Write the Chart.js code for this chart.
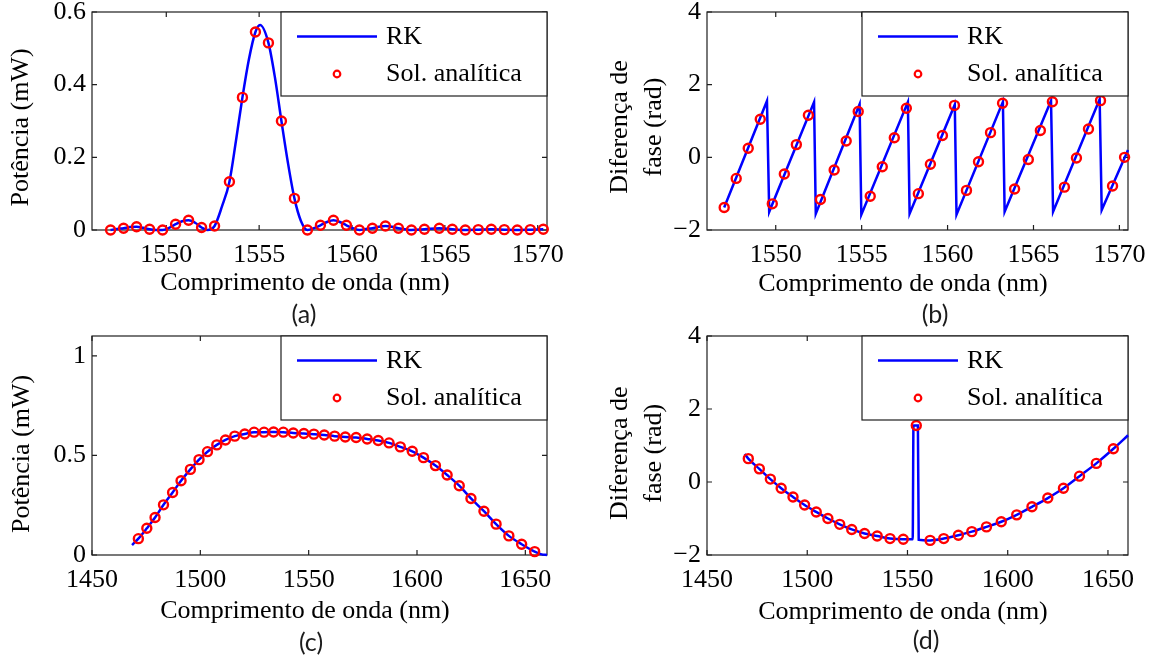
<!DOCTYPE html>
<html><head><meta charset="utf-8">
<script src="https://cdn.jsdelivr.net/npm/chart.js@4.4.0/dist/chart.umd.min.js"></script>
<style>
html,body{margin:0;padding:0;background:#fff;width:1153px;height:659px;overflow:hidden;position:relative;}
canvas{position:absolute;display:block;}
.cap{position:absolute;font-family:Lato,"Open Sans",sans-serif;font-size:25px;color:#1c1c1c;transform:translate(-50%,-50%);line-height:1;}
</style></head><body>
<canvas id="ca" width="576" height="330" style="left:0;top:0"></canvas>
<canvas id="cb" width="577" height="330" style="left:576px;top:0"></canvas>
<canvas id="cc" width="576" height="349" style="left:0;top:310px"></canvas>
<canvas id="cd" width="577" height="349" style="left:576px;top:310px"></canvas>
<div class="cap" style="left:304px;top:313px">(a)</div>
<div class="cap" style="left:935px;top:313px">(b)</div>
<div class="cap" style="left:311px;top:641px">(c)</div>
<div class="cap" style="left:926px;top:639px">(d)</div>
<script>
// ---------- data ----------
const seriesLabels = ['RK', 'Sol. analítica'];
const xTitle = 'Comprimento de onda (nm)';
const powerTitle = ['Potência (mW)'];
const phaseTitle = ['Diferença de', 'fase (rad)'];
const captions = ['(a)', '(b)', '(c)', '(d)'];

const abXTicks = [1550, 1555, 1560, 1565, 1570];
const cdXTicks = [1450, 1500, 1550, 1600, 1650];
const aYTicks = [0, 0.2, 0.4, 0.6];
const cYTicks = [0, 0.5, 1];
const bdYTicks = [-2, 0, 2, 4];

// (a) power, narrow band
const aSolX = [1547.0, 1547.7, 1548.4, 1549.1, 1549.8, 1550.5, 1551.2, 1551.9, 1552.6, 1553.4, 1554.1, 1554.8, 1555.5, 1556.2, 1556.9, 1557.6, 1558.3, 1559.0, 1559.7, 1560.4, 1561.1, 1561.8, 1562.5, 1563.2, 1563.9, 1564.7, 1565.4, 1566.1, 1566.8, 1567.5, 1568.2, 1568.9, 1569.6, 1570.3];
const aSolY = [0.000, 0.005, 0.009, 0.002, 0.000, 0.016, 0.027, 0.007, 0.011, 0.133, 0.365, 0.545, 0.515, 0.300, 0.087, 0.000, 0.013, 0.027, 0.013, 0.000, 0.005, 0.011, 0.005, 0.000, 0.002, 0.005, 0.002, 0.000, 0.001, 0.002, 0.001, 0.000, 0.001, 0.002];
const aRkX = [1547.0, 1547.35, 1547.7, 1548.05, 1548.4, 1548.75, 1549.1, 1549.45, 1549.8, 1550.15, 1550.5, 1550.85, 1551.2, 1551.55, 1551.9, 1552.2, 1552.6, 1553.0, 1553.4, 1553.75, 1554.1, 1554.45, 1554.8, 1555.05, 1555.5, 1555.85, 1556.2, 1556.55, 1556.9, 1557.25, 1557.6, 1557.95, 1558.3, 1558.65, 1559.0, 1559.35, 1559.7, 1560.05, 1560.4, 1560.75, 1561.1, 1561.45, 1561.8, 1562.15, 1562.5, 1562.85, 1563.2, 1563.9, 1564.7, 1565.4, 1566.1, 1566.8, 1567.5, 1568.2, 1568.9, 1569.6, 1570.3];
const aRkY = [0.000, 0.003, 0.005, 0.008, 0.009, 0.006, 0.002, 0.000, 0.000, 0.006, 0.016, 0.024, 0.027, 0.020, 0.007, 0.000, 0.011, 0.065, 0.133, 0.245, 0.365, 0.470, 0.545, 0.564, 0.515, 0.420, 0.300, 0.185, 0.087, 0.025, 0.000, 0.005, 0.013, 0.022, 0.027, 0.022, 0.013, 0.005, 0.000, 0.003, 0.005, 0.009, 0.011, 0.009, 0.005, 0.002, 0.000, 0.002, 0.005, 0.002, 0.000, 0.001, 0.002, 0.001, 0.000, 0.001, 0.002];

// (b) phase, narrow band
const bSolX = [1547.0, 1547.7, 1548.4, 1549.1, 1549.8, 1550.5, 1551.2, 1551.9, 1552.6, 1553.4, 1554.1, 1554.8, 1555.5, 1556.2, 1556.9, 1557.6, 1558.3, 1559.0, 1559.7, 1560.4, 1561.1, 1561.8, 1562.5, 1563.2, 1563.9, 1564.7, 1565.4, 1566.1, 1566.8, 1567.5, 1568.2, 1568.9, 1569.6, 1570.3];
const bSolY = [-1.38, -0.58, 0.25, 1.05, -1.28, -0.46, 0.35, 1.16, -1.16, -0.35, 0.45, 1.26, -1.07, -0.26, 0.54, 1.35, -1.00, -0.19, 0.60, 1.43, -0.91, -0.12, 0.68, 1.49, -0.87, -0.06, 0.74, 1.53, -0.82, -0.02, 0.78, 1.56, -0.79, 0.00];
const bRkX = [1547.0, 1549.49, 1549.62, 1552.23, 1552.33, 1554.88, 1554.98, 1557.69, 1557.79, 1560.42, 1560.52, 1563.22, 1563.32, 1566.02, 1566.14, 1568.85, 1568.97, 1570.5];
const bRkY = [-1.38, 1.55, -1.50, 1.52, -1.55, 1.46, -1.58, 1.52, -1.55, 1.45, -1.58, 1.53, -1.50, 1.56, -1.50, 1.60, -1.45, 0.20];

// (c) power, wide band
const cSolX = [1471.4, 1475.3, 1479.1, 1483.0, 1487.2, 1491.1, 1495.4, 1499.4, 1503.3, 1507.6, 1511.6, 1515.9, 1520.5, 1524.8, 1529.4, 1533.8, 1538.3, 1542.9, 1547.8, 1552.4, 1557.2, 1562.0, 1566.9, 1571.9, 1577.0, 1582.1, 1587.1, 1592.3, 1597.8, 1603.0, 1608.5, 1613.9, 1619.5, 1624.9, 1630.9, 1636.5, 1642.4, 1648.3, 1654.3];
const cSolY = [0.082, 0.134, 0.188, 0.252, 0.314, 0.373, 0.430, 0.479, 0.519, 0.553, 0.578, 0.597, 0.608, 0.617, 0.617, 0.618, 0.617, 0.613, 0.610, 0.607, 0.603, 0.597, 0.593, 0.590, 0.583, 0.575, 0.563, 0.543, 0.521, 0.489, 0.449, 0.402, 0.348, 0.284, 0.220, 0.155, 0.096, 0.054, 0.017];
const cRkX = [1468.5, 1471.4, 1475.3, 1479.1, 1483.0, 1487.2, 1491.1, 1495.4, 1499.4, 1503.3, 1507.6, 1511.6, 1515.9, 1520.5, 1524.8, 1529.4, 1533.8, 1538.3, 1542.9, 1547.8, 1552.4, 1557.2, 1562.0, 1566.9, 1571.9, 1577.0, 1582.1, 1587.1, 1592.3, 1597.8, 1603.0, 1608.5, 1613.9, 1619.5, 1624.9, 1630.9, 1636.5, 1642.4, 1648.3, 1654.3, 1657.5, 1660.0];
const cRkY = [0.050, 0.082, 0.134, 0.188, 0.252, 0.314, 0.373, 0.430, 0.479, 0.519, 0.553, 0.578, 0.597, 0.608, 0.617, 0.617, 0.618, 0.617, 0.613, 0.610, 0.607, 0.603, 0.597, 0.593, 0.590, 0.583, 0.575, 0.563, 0.543, 0.521, 0.489, 0.449, 0.402, 0.348, 0.284, 0.220, 0.155, 0.096, 0.054, 0.017, 0.003, 0.000];

// (d) phase, wide band
const dSolX = [1470.6, 1476.1, 1481.6, 1487.0, 1492.9, 1498.7, 1504.5, 1510.3, 1516.2, 1522.2, 1528.6, 1534.9, 1541.3, 1547.9, 1554.4, 1561.3, 1568.1, 1575.4, 1582.1, 1589.4, 1596.8, 1604.5, 1612.1, 1620.0, 1627.8, 1635.8, 1644.2, 1652.7];
const dSolY = [0.64, 0.36, 0.08, -0.17, -0.41, -0.63, -0.82, -1.00, -1.16, -1.30, -1.41, -1.48, -1.55, -1.57, 1.55, -1.60, -1.55, -1.46, -1.36, -1.23, -1.09, -0.90, -0.68, -0.44, -0.17, 0.16, 0.51, 0.91];
const dRkX = [1468.8, 1470.6, 1476.1, 1481.6, 1487.0, 1492.9, 1498.7, 1504.5, 1510.3, 1516.2, 1522.2, 1528.6, 1534.9, 1541.3, 1547.9, 1552.6, 1553.0, 1555.2, 1555.6, 1561.3, 1568.1, 1575.4, 1582.1, 1589.4, 1596.8, 1604.5, 1612.1, 1620.0, 1627.8, 1635.8, 1644.2, 1652.7, 1660.0];
const dRkY = [0.77, 0.64, 0.36, 0.08, -0.17, -0.41, -0.63, -0.82, -1.00, -1.16, -1.30, -1.41, -1.48, -1.55, -1.57, -1.57, 1.55, 1.55, -1.58, -1.60, -1.55, -1.46, -1.36, -1.23, -1.09, -0.90, -0.68, -0.44, -0.17, 0.16, 0.51, 0.91, 1.28];

// ---------- drawing ----------
const SERIF = '"Liberation Serif", "Times New Roman", serif';
const FS = 26;
const AXIS = '#1e1e1e';

function pts(xs, ys) { return xs.map((x, i) => ({x: x, y: ys[i]})); }
function fmt(v) { return String(v).replace('-', '\u2212'); }

const framePlugin = {
  id: 'frame',
  beforeDatasetsDraw(chart, args, o) {
    const {ctx, chartArea: a, scales: {x, y}} = chart;
    ctx.save();
    ctx.strokeStyle = AXIS; ctx.lineWidth = 1.2;
    ctx.beginPath();
    const L = 5;
    x.ticks.forEach(t => {
      const px = x.getPixelForValue(t.value);
      ctx.moveTo(px, a.bottom); ctx.lineTo(px, a.bottom - L);
      ctx.moveTo(px, a.top); ctx.lineTo(px, a.top + L);
    });
    y.ticks.forEach(t => {
      const py = y.getPixelForValue(t.value);
      ctx.moveTo(a.left, py); ctx.lineTo(a.left + L, py);
      ctx.moveTo(a.right, py); ctx.lineTo(a.right - L, py);
    });
    ctx.stroke();
    ctx.strokeRect(a.left, a.top, a.right - a.left, a.bottom - a.top);
    ctx.fillStyle = '#000';
    ctx.font = FS + 'px ' + SERIF;
    ctx.textAlign = 'center'; ctx.textBaseline = 'middle';
    ctx.fillText(o.xTitle, o.xTitleAt[0], o.xTitleAt[1]);
    ctx.save();
    ctx.translate(o.yTitleAt[0], o.yTitleAt[1]);
    ctx.rotate(-Math.PI / 2);
    o.yTitle.forEach((line, i) => ctx.fillText(line, 0, i * o.yGap));
    ctx.restore();
    ctx.restore();
  },
  afterDatasetsDraw(chart) {
    const {ctx, chartArea: a} = chart;
    const ds = chart.data.datasets;
    const bw = 266, bh = 84;
    const bx = a.right - bw, by = a.top;
    ctx.save();
    ctx.fillStyle = '#fff';
    ctx.fillRect(bx, by, bw, bh);
    ctx.strokeStyle = AXIS; ctx.lineWidth = 1.2;
    ctx.strokeRect(bx, by, bw, bh);
    ctx.strokeStyle = ds[0].borderColor; ctx.lineWidth = ds[0].borderWidth;
    ctx.beginPath(); ctx.moveTo(bx + 16, by + 24.5); ctx.lineTo(bx + 96, by + 24.5); ctx.stroke();
    ctx.strokeStyle = ds[1].pointBorderColor; ctx.lineWidth = 2.2;
    ctx.beginPath(); ctx.arc(bx + 56, by + 62, 3.3, 0, Math.PI * 2); ctx.stroke();
    ctx.fillStyle = '#000';
    ctx.font = FS + 'px ' + SERIF;
    ctx.textAlign = 'left'; ctx.textBaseline = 'middle';
    ctx.fillText(ds[0].label, bx + 105, by + 25);
    ctx.fillText(ds[1].label, bx + 105, by + 62);
    ctx.restore();
  }
};

function build(id, p) {
  const cv = document.getElementById(id);
  const W = cv.width, H = cv.height;
  const tickFont = {family: SERIF, size: FS, lineHeight: 1.2};
  return new Chart(cv, {
    type: 'scatter',
    data: {datasets: [
      {label: seriesLabels[0], data: pts(p.rkX, p.rkY), showLine: true, borderColor: '#0000ff', borderWidth: 2.5,
       pointRadius: 0, pointHoverRadius: 0, cubicInterpolationMode: p.smooth ? 'monotone' : 'default', tension: 0, clip: false, order: 2},
      {label: seriesLabels[1], data: pts(p.solX, p.solY), showLine: false, pointRadius: 4.5, pointHoverRadius: 4.5,
       pointBorderWidth: 2.4, pointBorderColor: '#ff0000', pointBackgroundColor: 'rgba(255,255,255,0)', clip: false, order: 1}
    ]},
    options: {
      responsive: false, animation: false, devicePixelRatio: 1, events: [],
      layout: {padding: {left: 0, top: p.area.top, right: W - p.area.right, bottom: 0}},
      plugins: {legend: {display: false}, tooltip: {enabled: false},
        frame: {xTitle: xTitle, xTitleAt: p.xTitleAt, yTitle: p.yTitle, yTitleAt: p.yTitleAt, yGap: 34}},
      scales: {
        x: {type: 'linear', min: p.xMin, max: p.xMax,
          grid: {display: false, drawTicks: false}, border: {display: false},
          ticks: {font: tickFont, color: '#000', padding: 10, maxRotation: 0, autoSkip: false, callback: v => fmt(v)},
          afterBuildTicks: s => { s.ticks = p.xTicks.map(v => ({value: v})); },
          afterFit: s => { s.height = H - p.area.bottom; s.paddingLeft = 0; s.paddingRight = 0; }},
        y: {type: 'linear', min: p.yMin, max: p.yMax,
          grid: {display: false, drawTicks: false}, border: {display: false},
          ticks: {font: tickFont, color: '#000', padding: 6, autoSkip: false, callback: v => fmt(v)},
          afterBuildTicks: s => { s.ticks = p.yTicks.map(v => ({value: v})); },
          afterFit: s => { s.width = p.area.left; s.paddingTop = 0; s.paddingBottom = 0; }}
      }
    },
    plugins: [framePlugin]
  });
}

build('ca', {rkX: aRkX, rkY: aRkY, solX: aSolX, solY: aSolY, smooth: true,
  xMin: 1546, xMax: 1570.5, yMin: 0, yMax: 0.6, xTicks: abXTicks, yTicks: aYTicks,
  area: {left: 92, top: 12, right: 547, bottom: 230},
  yTitle: powerTitle, xTitleAt: [305, 283], yTitleAt: [21.5, 127.5]});
build('cb', {rkX: bRkX, rkY: bRkY, solX: bSolX, solY: bSolY, smooth: false,
  xMin: 1546, xMax: 1570.5, yMin: -2, yMax: 4, xTicks: abXTicks, yTicks: bdYTicks,
  area: {left: 131, top: 12, right: 552, bottom: 230},
  yTitle: phaseTitle, xTitleAt: [327, 284], yTitleAt: [44.5, 127]});
build('cc', {rkX: cRkX, rkY: cRkY, solX: cSolX, solY: cSolY, smooth: true,
  xMin: 1450, xMax: 1660, yMin: 0, yMax: 1.1, xTicks: cdXTicks, yTicks: cYTicks,
  area: {left: 92, top: 26, right: 547, bottom: 245},
  yTitle: powerTitle, xTitleAt: [305, 301.5], yTitleAt: [22.5, 144]});
build('cd', {rkX: dRkX, rkY: dRkY, solX: dSolX, solY: dSolY, smooth: true,
  xMin: 1450, xMax: 1660, yMin: -2, yMax: 4, xTicks: cdXTicks, yTicks: bdYTicks,
  area: {left: 131, top: 26, right: 552, bottom: 245},
  yTitle: phaseTitle, xTitleAt: [327, 302], yTitleAt: [44.5, 143.3]});
</script>
</body></html>
